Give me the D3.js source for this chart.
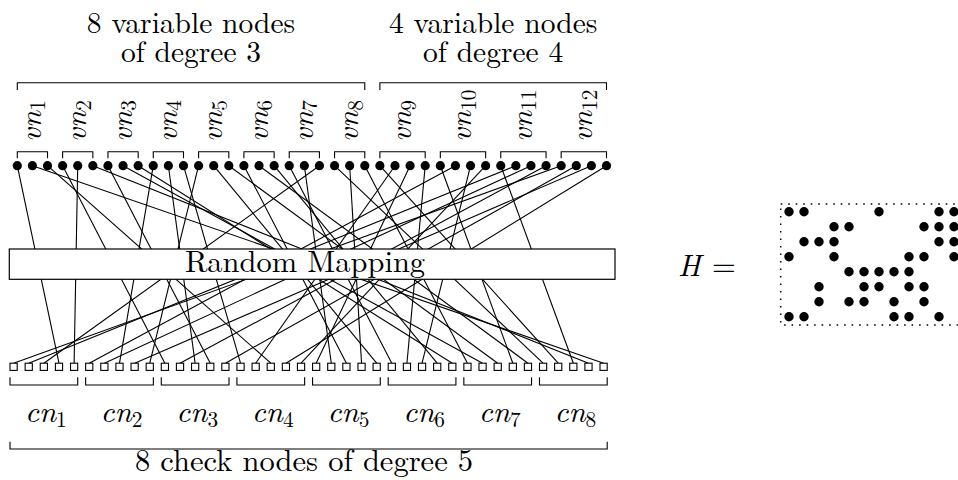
<!DOCTYPE html>
<html><head><meta charset="utf-8">
<script src="https://cdn.jsdelivr.net/npm/d3@7"></script>
<style>
body{margin:0;background:#fff} svg{display:block}
svg text{font-family:"Latin Modern Roman","Liberation Serif",serif;}
</style>
</head><body>
<svg id="c" width="958" height="480"></svg>
<script>
// ---------- data ----------
const varNodeLabels = ["1","2","3","4","5","6","7","8","9","10","11","12"];
const varNodeDegrees = [3,3,3,3,3,3,3,3,4,4,4,4];
const checkNodeLabels = ["1","2","3","4","5","6","7","8"];
const checkNodeDegrees = [5,5,5,5,5,5,5,5];
const varGroupSizes = [8,4];
const varGroupTitles = [["8 variable nodes","of degree 3"],["4 variable nodes","of degree 4"]];
const checkTitle = "8 check nodes of degree 5";
const boxLabel = "Random Mapping";
// for each check-node socket (left to right): index of the variable-node socket it is wired to
const edgeVarSocket = [36,33,20,0,4, 29,34,9,38,12, 3,35,10,6,37, 11,25,2,39,31,
                       26,19,15,22,13, 18,27,30,17,8, 23,7,14,28,16, 21,24,32,5,1];
// parity-check matrix (rows = check nodes, columns = variable nodes)
const H = [
  [1,1,0,0,0,0,1,0,0,0,1,1],
  [0,0,0,1,1,0,0,0,0,1,1,1],
  [0,1,1,1,0,0,0,0,0,0,1,1],
  [1,0,0,1,0,0,0,0,1,1,0,1],
  [0,0,0,0,1,1,1,1,1,0,0,0],
  [0,0,1,0,0,1,1,0,1,1,0,0],
  [0,0,1,0,1,1,0,1,0,1,0,0],
  [1,1,0,0,0,0,0,1,1,0,1,0]
];

// ---------- drawing ----------
const svg = d3.select("#c");
const FS = 30.5;
const nV = d3.sum(varNodeDegrees), nC = d3.sum(checkNodeDegrees);
const xV = d3.scaleLinear().domain([0, nV-1]).range([17.3, 606.5]);
const xC = d3.scaleLinear().domain([0, nC-1]).range([13.6, 603.6]);
const yDot = 165.7, ySqTop = 363.2, sq = 7.2;

const starts = a => { let s=0; return a.map(d => { const r=s; s+=d; return r; }); };
const vStart = starts(varNodeDegrees), cStart = starts(checkNodeDegrees);

function bracketDown(g, x1, x2, y, h){
  g.append("path").attr("d", `M${x1},${y+h}V${y}H${x2}V${y+h}`)
   .attr("fill","none").attr("stroke","#000").attr("stroke-width",1.1);
}
function bracketUp(g, x1, x2, y, h){
  g.append("path").attr("d", `M${x1},${y-h}V${y}H${x2}V${y-h}`)
   .attr("fill","none").attr("stroke","#000").attr("stroke-width",1.1);
}
function mathLabel(sel, base, sub){
  sel.append("tspan").attr("font-style","italic").text(base);
  sel.append("tspan").attr("font-size","0.7em").attr("dy",4.5).text(sub);
}

// edges
svg.append("g").selectAll("line").data(edgeVarSocket).join("line")
  .attr("x1", d => xV(d)).attr("y1", yDot)
  .attr("x2", (d,i) => xC(i)).attr("y2", ySqTop)
  .attr("stroke","#000").attr("stroke-width",1.1);

// variable sockets
svg.append("g").selectAll("circle").data(d3.range(nV)).join("circle")
  .attr("cx", d => xV(d)).attr("cy", yDot).attr("r", 4.6).attr("fill","#000");

// check sockets
svg.append("g").selectAll("rect").data(d3.range(nC)).join("rect")
  .attr("x", d => xC(d)-sq/2).attr("y", ySqTop).attr("width", sq).attr("height", sq)
  .attr("fill","#fff").attr("stroke","#000").attr("stroke-width",1.1);

// random mapping box
svg.append("rect").attr("x",9.3).attr("y",249).attr("width",605.7).attr("height",30.3)
  .attr("fill","#fff").attr("stroke","#000").attr("stroke-width",1.2);
svg.append("text").attr("x",305).attr("y",271.5).attr("text-anchor","middle")
  .attr("font-size",FS).text(boxLabel);

// variable node brackets + labels
const gV = svg.append("g");
varNodeLabels.forEach((lab,k) => {
  const a = xV(vStart[k]), b = xV(vStart[k]+varNodeDegrees[k]-1);
  bracketDown(gV, a, b, 151.7, 6.6);
  const t = gV.append("text").attr("transform",`translate(${(a+b)/2+8.5},142) rotate(-90)`)
    .attr("font-size",FS);
  mathLabel(t, "vn", lab);
});
// variable group brackets + two-line titles
let gs = 0;
varGroupSizes.forEach((n,gi) => {
  const a = xV(vStart[gs]), lastNode = gs+n-1;
  const b = xV(vStart[lastNode]+varNodeDegrees[lastNode]-1);
  bracketDown(gV, a, b, 82.7, 7.3);
  const t = gV.append("text").attr("text-anchor","middle").attr("font-size",29.5);
  varGroupTitles[gi].forEach((line,li) => {
    t.append("tspan").attr("x",(a+b)/2).attr("y", 33+li*28.5).text(line);
  });
  gs += n;
});

// check node brackets + labels
const gC = svg.append("g");
checkNodeLabels.forEach((lab,k) => {
  const a = xC(cStart[k])-sq/2, b = xC(cStart[k]+checkNodeDegrees[k]-1)+sq/2;
  bracketUp(gC, a, b, 385, 7.7);
  const t = gC.append("text").attr("x",(a+b)/2+2).attr("y",422).attr("text-anchor","middle")
    .attr("font-size",FS);
  mathLabel(t, "cn", lab);
});
{
  const a = xC(0)-sq/2, b = xC(nC-1)+sq/2;
  bracketUp(gC, a, b, 449, 7.3);
  gC.append("text").attr("x",304).attr("y",471).attr("text-anchor","middle")
    .attr("font-size",FS).text(checkTitle);
}

// H matrix
const hx = d3.scaleLinear().domain([0, varNodeLabels.length-1]).range([789, 954]);
const hy = d3.scaleLinear().domain([0, checkNodeLabels.length-1]).range([211.7, 316.7]);
svg.append("text").attr("x",678).attr("y",276).attr("font-size",FS).attr("font-style","italic").text("H");
svg.append("text").attr("x",712).attr("y",276).attr("font-size",FS).text("=");
svg.append("rect").attr("x",780.7).attr("y",204).attr("width",182).attr("height",121)
  .attr("fill","none").attr("stroke","#000").attr("stroke-width",1.5).attr("stroke-dasharray","1.6 5.9");
const cells = [];
H.forEach((row,i) => row.forEach((v,j) => { if (v) cells.push({i,j}); }));
svg.append("g").selectAll("circle").data(cells).join("circle")
  .attr("cx", d => hx(d.j)).attr("cy", d => hy(d.i)).attr("r", 4.7).attr("fill","#000");
</script>
</body></html>
